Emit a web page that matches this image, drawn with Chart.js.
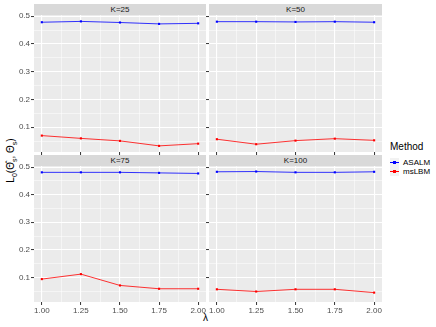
<!DOCTYPE html>
<html>
<head>
<meta charset="utf-8">
<script src="https://cdn.jsdelivr.net/npm/chart.js@4.4.1/dist/chart.umd.min.js"></script>
<style>
  body { margin: 0; background: #fff; }
  #fig { position: relative; width: 436px; height: 327px; overflow: hidden; font-family: "Liberation Sans", Arial, sans-serif; }
  #fig canvas { position: absolute; left: 0; top: 0; }
  .strip { position: absolute; background: #D9D9D9; color: #1A1A1A; font-size: 8px; text-align: center; line-height: 11px; height: 11px; }
  .lab { position: absolute; color: #000; white-space: nowrap; }
  .key { position: absolute; width: 9px; height: 9px; background: #F2F2F2; }
  .key i { position: absolute; left: 0; top: 4px; width: 9px; height: 1px; }
  .key b { position: absolute; left: 3px; top: 3px; width: 3px; height: 3px; }
</style>
</head>
<body>
<div id="fig">
  <div class="strip" style="left:34px;top:4px;width:172px;">K=25</div>
  <div class="strip" style="left:209px;top:4px;width:173px;">K=50</div>
  <div class="strip" style="left:34px;top:155px;width:172px;">K=75</div>
  <div class="strip" style="left:209px;top:155px;width:173px;">K=100</div>
  <div class="lab" style="left:-19px;top:154px;width:60px;text-align:center;font-size:10px;transform:rotate(-90deg);">L<sub style="font-size:7px">0</sub>(Θ̂<sub style="font-size:7px">s</sub>, Θ<sub style="font-size:7px">s</sub>)</div>
  <div class="lab" style="left:203px;top:312px;font-size:10px;">λ</div>
  <div class="lab" style="left:390px;top:141px;font-size:10px;">Method</div>
  <div class="key" style="left:390px;top:158px;"><i style="background:#0000FF"></i><b style="background:#0000FF"></b></div>
  <div class="key" style="left:390px;top:167px;"><i style="background:#FF0000"></i><b style="background:#FF0000"></b></div>
  <div class="lab" style="left:403px;top:158px;font-size:8px;line-height:9px;">ASALM</div>
  <div class="lab" style="left:403px;top:167px;font-size:8px;line-height:9px;">msLBM</div>
</div>
<script>
var lambdas = [1.00, 1.25, 1.50, 1.75, 2.00];
var panelLabels = ["K=25", "K=50", "K=75", "K=100"];

var asalm25 = [0.478, 0.481, 0.477, 0.472, 0.474];
var mslbm25 = [0.070, 0.060, 0.051, 0.033, 0.041];
var asalm50 = [0.480, 0.480, 0.479, 0.480, 0.478];
var mslbm50 = [0.057, 0.039, 0.052, 0.059, 0.053];
var asalm75 = [0.481, 0.481, 0.481, 0.479, 0.477];
var mslbm75 = [0.094, 0.112, 0.071, 0.059, 0.059];
var asalm100 = [0.483, 0.484, 0.481, 0.481, 0.483];
var mslbm100 = [0.057, 0.049, 0.057, 0.057, 0.045];

var xMajor = [1.00, 1.25, 1.50, 1.75, 2.00];
var xMinor = [1.125, 1.375, 1.625, 1.875];
var yMajor = [0.1, 0.2, 0.3, 0.4, 0.5];
var yMinor = [0.05, 0.15, 0.25, 0.35, 0.45];

var W = 436, H = 327;

var panelBg = {
  id: 'panelBg',
  beforeDraw: function(chart) {
    var a = chart.chartArea, c = chart.ctx;
    c.save();
    c.fillStyle = '#EBEBEB';
    c.fillRect(a.left, a.top, a.right - a.left, a.bottom - a.top);
    c.restore();
  }
};

function tickList(major, minor) {
  var t = major.map(function(v) { return { value: v, isMajor: true }; })
    .concat(minor.map(function(v) { return { value: v, isMajor: false }; }));
  t.sort(function(a, b) { return a.value - b.value; });
  return t;
}

function pts(vals) {
  return lambdas.map(function(l, i) { return { x: l, y: vals[i] }; });
}

function panel(asalm, mslbm, box, showX, showY) {
  var cv = document.createElement('canvas');
  cv.width = W; cv.height = H;
  cv.style.width = W + 'px'; cv.style.height = H + 'px';
  document.getElementById('fig').appendChild(cv);

  var gridOpts = {
    color: '#FFFFFF',
    lineWidth: function(c) { return c.tick && c.tick.isMajor ? 1.1 : 0.5; },
    tickColor: function(c) { return c.tick && c.tick.isMajor ? '#333333' : 'rgba(0,0,0,0)'; },
    tickLength: 3,
    tickWidth: 1
  };

  new Chart(cv, {
    type: 'line',
    data: {
      datasets: [
        { label: 'ASALM', data: pts(asalm), borderColor: '#0000FF', backgroundColor: '#0000FF',
          borderWidth: 0.8, pointStyle: 'rect', pointRadius: 1.5, pointBorderWidth: 0 },
        { label: 'msLBM', data: pts(mslbm), borderColor: '#FF0000', backgroundColor: '#FF0000',
          borderWidth: 0.8, pointStyle: 'rect', pointRadius: 1.5, pointBorderWidth: 0 }
      ]
    },
    options: {
      responsive: false,
      animation: false,
      events: [],
      layout: { padding: { left: box.left - (showY ? 34 : 0), top: box.top, right: W - box.right, bottom: H - box.bottom - (showX ? 16 : 0) } },
      plugins: { legend: { display: false }, tooltip: { enabled: false } },
      scales: {
        x: {
          type: 'linear', min: 0.95, max: 2.05,
          border: { display: false },
          grid: gridOpts,
          afterBuildTicks: function(s) { s.ticks = tickList(xMajor, xMinor); },
          afterFit: function(s) { s.height = showX ? 16 : 0; },
          ticks: {
            display: showX, autoSkip: false, maxRotation: 0, padding: 1,
            color: '#4D4D4D', font: { family: 'Liberation Sans', size: 8 },
            callback: function(v, i, t) { return t[i].isMajor ? v.toFixed(2) : ''; }
          }
        },
        y: {
          type: 'linear', min: 0.011, max: 0.504,
          border: { display: false },
          grid: gridOpts,
          afterBuildTicks: function(s) { s.ticks = tickList(yMajor, yMinor); },
          afterFit: function(s) { s.width = showY ? 34 : 0; },
          ticks: {
            display: showY, autoSkip: false, padding: 1,
            color: '#4D4D4D', font: { family: 'Liberation Sans', size: 8 },
            callback: function(v, i, t) { return t[i].isMajor ? v.toFixed(1) : ''; }
          }
        }
      }
    },
    plugins: [panelBg]
  });
}

panel(asalm25, mslbm25, { left: 34, top: 15, right: 206, bottom: 152 }, false, true);
panel(asalm50, mslbm50, { left: 209, top: 15, right: 382, bottom: 152 }, false, false);
panel(asalm75, mslbm75, { left: 34, top: 166, right: 206, bottom: 302 }, true, true);
panel(asalm100, mslbm100, { left: 209, top: 166, right: 382, bottom: 302 }, true, false);
</script>
</body>
</html>
